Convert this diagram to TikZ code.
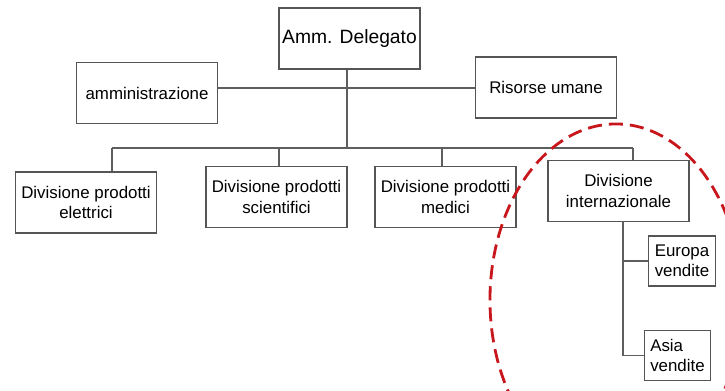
\documentclass[tikz,border=0pt]{standalone}
\usepackage{fontspec}
\setmainfont{Liberation Sans}
\definecolor{boxgray}{HTML}{555555}
\definecolor{linegray}{HTML}{5E5E5E}
\definecolor{cerchio}{HTML}{C8161D}
\begin{document}
\begin{tikzpicture}[x=0.025cm,y=-0.025cm,
  box/.style={draw=boxgray,line width=1pt,align=center,inner sep=1pt,
    minimum width=3.52cm,minimum height=1.52cm,font=\fontsize{12}{14.5}\selectfont},
  small/.style={box,minimum width=1.66cm,minimum height=1.24cm},
  line/.style={draw=linegray,line width=0.9pt}]
\useasboundingbox (0,0) rectangle (725,390);
\node[box,font=\fontsize{13.7}{16}\selectfont] (ad) at (349.5,38.5) {Amm. Delegato};
\node[box] (amm) at (147,93) {amministrazione};
\node[box] (ru) at (546,87.5) {Risorse umane};
\node[box] (dpe) at (86,202.5) {Divisione prodotti\\elettrici};
\node[box] (dps) at (276.5,197) {Divisione prodotti\\scientifici};
\node[box] (dpm) at (445.5,197) {Divisione prodotti\\medici};
\node[box] (di) at (618.5,191) {Divisione\\internazionale};
\node[small] (eu) at (682,261) {Europa\\vendite};
\node[small,align=left] (as) at (677.5,355.5) {Asia\\vendite};
\coordinate (c) at (347,88);
\coordinate (b) at (347,148);
\coordinate (d1) at (112,148);
\coordinate (d2) at (279,148);
\coordinate (d3) at (442,148);
\coordinate (d4) at (633,148);
\coordinate (v) at (623,221);
\path[line] (amm.east |- c) -- (ru.west |- c);
\path[line] (ad.south -| c) -- (b);
\path[line] (d1) -- (d4);
\path[line] (d1) -- (d1 |- dpe.north);
\path[line] (d2) -- (d2 |- dps.north);
\path[line] (d3) -- (d3 |- dpm.north);
\path[line] (d4) -- (d4 |- di.north);
\path[line] (v) -- (v |- as.west) -- (as.west);
\path[line] (v |- eu.west) -- (eu.west);
\begin{scope}
\clip (0,0) rectangle (725,390);
\draw[cerchio,line width=2pt,dash pattern=on 10pt off 5pt] (616,300) ellipse (3.15cm and 4.4cm);
\end{scope}
\end{tikzpicture}
\end{document}
